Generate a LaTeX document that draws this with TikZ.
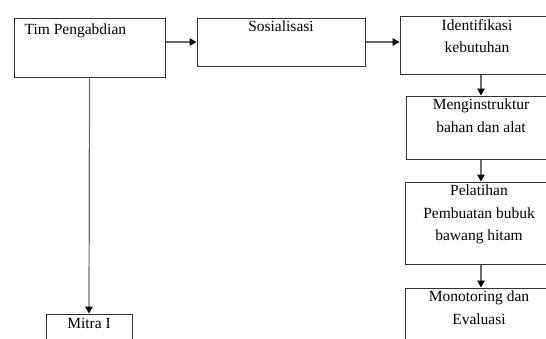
\documentclass[tikz,border=0pt]{standalone}
\usepackage{fontspec}
\setmainfont{Liberation Serif}
\usetikzlibrary{arrows.meta,positioning}

\tikzset{
  stepbox/.style={draw=black!80, line width=1pt, rectangle, inner sep=0pt},
  boxtext/.style={anchor=north, align=center, inner sep=0pt, yshift=-3.5pt,
    font=\fontsize{15.5}{22.5}\selectfont},
  flow/.style={-{Triangle[length=7pt,width=7.5pt,color=black]}, draw=gray!85!black, line width=1.2pt}
}

\begin{document}
\begin{tikzpicture}[x=1pt, y=-1pt]
  \useasboundingbox (0,0) rectangle (546,338);

  % Boxes
  \node[stepbox, minimum width=151pt, minimum height=59pt,
    label={[boxtext, anchor=north west, xshift=11pt, yshift=-3pt]north west:Tim Pengabdian}] (tim) at (89.5,47.5) {};
  \node[stepbox, minimum width=168pt, minimum height=48pt,
    label={[boxtext]north:Sosialisasi}] (sos) at (281,42) {};
  \node[stepbox, minimum width=154pt, minimum height=58pt,
    label={[boxtext]north:Identifikasi\\kebutuhan}] (ident) at (477,45) {};
  \node[stepbox, minimum width=150pt, minimum height=63pt,
    label={[boxtext]north:Menginstruktur\\bahan dan alat}] (meng) at (481,127.5) {};
  \node[stepbox, minimum width=148pt, minimum height=82pt,
    label={[boxtext]north:Pelatihan\\Pembuatan bubuk\\bawang hitam}] (pel) at (479,223) {};
  \node[stepbox, minimum width=148pt, minimum height=70pt,
    label={[boxtext]north:Monotoring dan\\Evaluasi}] (mono) at (479,323) {};
  \node[stepbox, minimum width=86pt, minimum height=46pt,
    label={[boxtext, yshift=-1pt]north:Mitra I}] (mitra) at (89,337) {};

  % Arrows
  \draw[flow] (tim.east |- sos.west) -- (sos.west);
  \draw[flow] (sos.east) -- (sos.east -| ident.west);
  \draw[flow] (ident.south -| meng.north) -- (meng.north);
  \draw[flow] (meng.south) -- (meng.south |- pel.north);
  \draw[flow] (pel.south -| meng.south) -- (mono.north -| meng.south);
  \draw[flow] (tim.south) -- (mitra.north);
\end{tikzpicture}
\end{document}
